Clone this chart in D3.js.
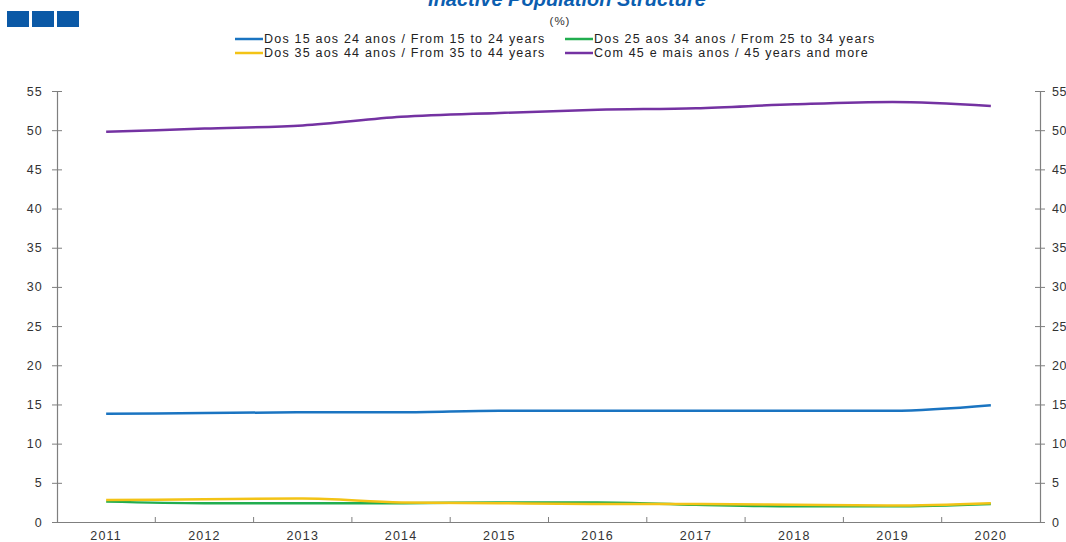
<!DOCTYPE html>
<html>
<head>
<meta charset="utf-8">
<script src="https://cdn.jsdelivr.net/npm/d3@7"></script>
<style>
  body { margin: 0; background: #fff; }
  svg { font-family: "Liberation Sans", Arial, sans-serif; }
</style>
</head>
<body>
<div id="chart"></div>
<script>
const years = ["2011", "2012", "2013", "2014", "2015", "2016", "2017", "2018", "2019", "2020"];
const age15to24 = [13.8, 13.9, 14.0, 14.0, 14.2, 14.2, 14.2, 14.2, 14.2, 14.9];
const age25to34 = [2.6, 2.4, 2.4, 2.4, 2.5, 2.5, 2.2, 2.0, 2.0, 2.3];
const age35to44 = [2.8, 2.9, 3.0, 2.5, 2.4, 2.3, 2.3, 2.2, 2.1, 2.4];
const age45plus = [49.8, 50.2, 50.6, 51.7, 52.2, 52.6, 52.8, 53.3, 53.6, 53.1];
const yTicks = [0, 5, 10, 15, 20, 25, 30, 35, 40, 45, 50, 55];

const seriesNames = [
  "Dos 15 aos 24 anos / From 15 to 24 years",
  "Dos 25 aos 34 anos / From 25 to 34 years",
  "Dos 35 aos 44 anos / From 35 to 44 years",
  "Com 45 e mais anos / 45 years and more"
];
const seriesColors = ["#1a74c1", "#21ad4f", "#f3c316", "#7432a2"];

const width = 1066, height = 542;
const margin = {left: 57, right: 26, top: 91, bottom: 20};

const svg = d3.select("#chart").append("svg")
  .attr("width", width)
  .attr("height", height);

// logo squares
svg.selectAll("rect.logo")
  .data([0, 1, 2])
  .enter()
  .append("rect")
  .attr("class", "logo")
  .attr("x", d => 7 + d * 25)
  .attr("y", 11)
  .attr("width", 22)
  .attr("height", 16)
  .attr("fill", "#0b59a6");

svg.append("text")
  .attr("x", 567)
  .attr("y", 6)
  .attr("text-anchor", "middle")
  .style("font-size", "20px")
  .style("font-weight", "bold")
  .style("font-style", "italic")
  .style("fill", "#0b5eb0")
  .text("Inactive Population Structure");

svg.append("text")
  .attr("x", 560)
  .attr("y", 25)
  .attr("text-anchor", "middle")
  .style("font-size", "11.5px")
  .style("letter-spacing", "1px")
  .style("fill", "#333")
  .text("(%)");

// legend
const legendPos = [[235, 39], [565, 39], [235, 53], [565, 53]];
const legend = svg.selectAll("g.legend")
  .data(seriesNames)
  .enter()
  .append("g")
  .attr("class", "legend")
  .attr("transform", (d, i) => "translate(" + legendPos[i][0] + "," + legendPos[i][1] + ")");

legend.append("line")
  .attr("x1", 0).attr("x2", 28)
  .attr("y1", 0).attr("y2", 0)
  .attr("stroke", (d, i) => seriesColors[i])
  .attr("stroke-width", 2.5);

legend.append("text")
  .attr("x", 29)
  .attr("y", 4)
  .style("font-size", "12.5px")
  .style("letter-spacing", "1.2px")
  .style("fill", "#222")
  .text(d => d);

const x0 = margin.left, x1 = width - margin.right;
const yBottom = 522;

const xScale = d3.scaleBand()
  .domain(years)
  .range([x0, x1]);

const yScale = d3.scaleLinear()
  .domain([0, 55])
  .range([yBottom, margin.top]);

const axisColor = "#7f7f7f";

// left axis
const yLeft = svg.append("g")
  .attr("transform", "translate(" + x0 + ",0)")
  .call(d3.axisLeft(yScale).tickValues(yTicks).tickSize(5).tickPadding(9).tickSizeOuter(0));
yLeft.selectAll(".tick line").attr("x1", 5);

const yRight = svg.append("g")
  .attr("transform", "translate(" + x1 + ",0)")
  .call(d3.axisRight(yScale).tickValues(yTicks).tickSize(5).tickPadding(7).tickSizeOuter(0));
yRight.selectAll(".tick line").attr("x1", -5);

// x axis, ticks at category boundaries
const xAxis = svg.append("g")
  .attr("transform", "translate(0," + yBottom + ")")
  .call(d3.axisBottom(xScale).tickSize(0).tickPadding(9).tickSizeOuter(0));

xAxis.selectAll(".boundary")
  .data(years.slice(1))
  .enter()
  .append("line")
  .attr("class", "boundary")
  .attr("x1", d => xScale(d))
  .attr("x2", d => xScale(d))
  .attr("y1", 0)
  .attr("y2", -5)
  .attr("stroke", axisColor);

[yLeft, yRight, xAxis].forEach(g => {
  g.select(".domain").attr("stroke", axisColor).attr("stroke-width", 1.2);
  g.selectAll(".tick line").attr("stroke", axisColor);
  g.selectAll("text").style("font-size", "12.5px").style("fill", "#333")
    .style("letter-spacing", "1.2px")
    .style("font-family", "Liberation Sans, Arial, sans-serif");
});
yRight.selectAll("text").style("letter-spacing", "0.6px");

const line = d3.line()
  .x((d, i) => xScale(years[i]) + xScale.bandwidth() / 2)
  .y(d => yScale(d))
  .curve(d3.curveMonotoneX);

const allSeries = [age15to24, age25to34, age35to44, age45plus];
const drawOrder = [0, 1, 2, 3];

svg.selectAll("path.series")
  .data(drawOrder)
  .enter()
  .append("path")
  .attr("class", "series")
  .attr("fill", "none")
  .attr("stroke", i => seriesColors[i])
  .attr("stroke-width", 2.5)
  .attr("d", i => line(allSeries[i]));
</script>
</body>
</html>
